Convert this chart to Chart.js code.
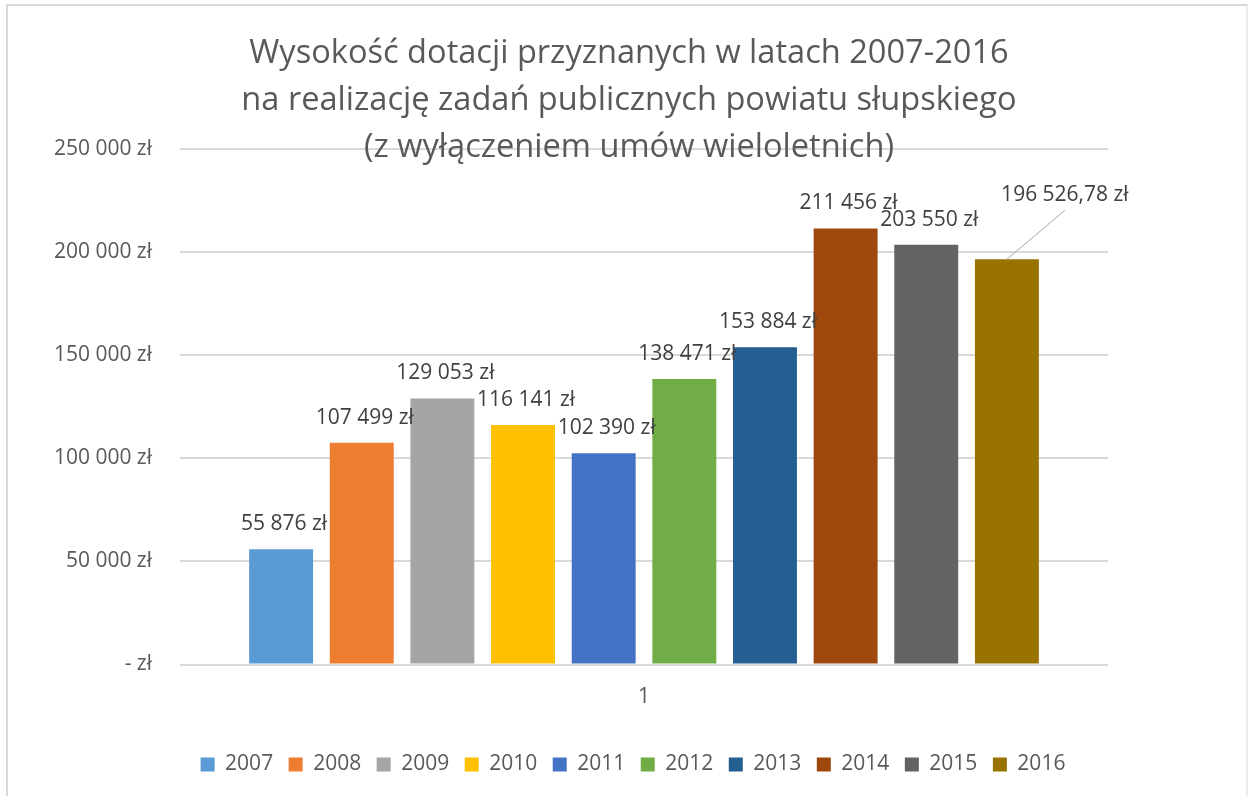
<!DOCTYPE html>
<html>
<head>
<meta charset="utf-8">
<script src="https://cdn.jsdelivr.net/npm/chart.js@4.4.1/dist/chart.umd.min.js"></script>
<style>
  html, body { margin: 0; padding: 0; background: #fff; overflow: hidden; }
  #wrap { position: relative; width: 1248px; height: 796px; }
  #frame { position: absolute; left: 6px; top: 4px; width: 1238px; height: 900px;
           border: 2px solid #d9d9d9; border-right-color: #ececec; pointer-events: none; }
</style>
</head>
<body>
<div id="wrap">
  <canvas id="chart" width="1248" height="796"></canvas>
  <div id="frame"></div>
</div>
<script>
// data
const categories = ['1'];
const years = ['2007', '2008', '2009', '2010', '2011', '2012', '2013', '2014', '2015', '2016'];
const amounts = [55876, 107499, 129053, 116141, 102390, 138471, 153884, 211456, 203550, 196526.78];
const colors = ['#5B9BD5', '#ED7D31', '#A5A5A5', '#FFC000', '#4472C4',
                '#70AD47', '#255E91', '#9E480E', '#636363', '#997300'];
const yTickLabels = ['- zł', '50 000 zł', '100 000 zł', '150 000 zł', '200 000 zł', '250 000 zł'];
const titleLines = [
  'Wysokość dotacji przyznanych w latach 2007-2016',
  'na realizację zadań publicznych powiatu słupskiego',
  '(z wyłączeniem umów wieloletnich)'
];

const FONT = '"Open Sans", "Noto Sans", sans-serif';
const GREY = '#595959';

// "55 876 zł", "196 526,78 zł"
function fmt(v) {
  const intPart = Math.floor(v);
  let s = String(intPart).replace(/\B(?=(\d{3})+(?!\d))/g, ' ');
  const frac = Math.round((v - intPart) * 100);
  if (frac > 0) s += ',' + String(frac).padStart(2, '0');
  return s + ' zł';
}

// title drawn by hand so it can sit over the plot like in Excel
const titlePlugin = {
  id: 'titleOverlay',
  afterLayout(chart) {
    // centre the legend under the whole figure, not under the padded box
    const lg = chart.legend;
    if (lg) { lg.left = 158; lg.right = 1108; lg.width = 950; }
  },
  afterDraw(chart) {
    const ctx = chart.ctx;
    ctx.save();
    ctx.font = '32.6px ' + FONT;
    ctx.fillStyle = GREY;
    ctx.textAlign = 'center';
    ctx.textBaseline = 'alphabetic';
    titleLines.forEach((t, i) => ctx.fillText(t, 629, 63 + i * 47));
    ctx.restore();
  }
};

// value labels above the bars, last one pulled out with a leader line
const labelPlugin = {
  id: 'barLabels',
  afterDatasetsDraw(chart) {
    const ctx = chart.ctx;
    ctx.save();
    ctx.font = '21px ' + FONT;
    ctx.fillStyle = '#404040';
    ctx.textAlign = 'center';
    ctx.textBaseline = 'alphabetic';
    chart.data.datasets.forEach((ds, i) => {
      const bar = chart.getDatasetMeta(i).data[0];
      if (!bar) return;
      const text = fmt(ds.data[0]);
      if (i === years.length - 1) {
        const lx = bar.x + 58, ly = bar.y - 58;
        ctx.strokeStyle = '#a6a6a6';
        ctx.lineWidth = 1;
        ctx.beginPath();
        ctx.moveTo(bar.x, bar.y);
        ctx.lineTo(lx, ly + 9);
        ctx.stroke();
        ctx.fillText(text, lx, ly);
      } else {
        ctx.fillText(text, bar.x + 3, bar.y - 19);
      }
    });
    ctx.restore();
  }
};

const ctx = document.getElementById('chart').getContext('2d');
new Chart(ctx, {
  type: 'bar',
  data: {
    labels: categories,
    datasets: years.map((y, i) => ({
      label: y,
      data: [amounts[i]],
      backgroundColor: colors[i],
      borderWidth: 0,
      categoryPercentage: 0.869,
      barPercentage: 0.793
    }))
  },
  options: {
    responsive: false,
    animation: false,
    layout: { padding: { top: 149, left: 0, right: 140, bottom: 11 } },
    scales: {
      x: {
        grid: { display: false },
        border: { display: false },
        ticks: { color: GREY, font: { family: FONT, size: 21 }, padding: 12 },
        afterFit(scale) { scale.height = 74; }
      },
      y: {
        min: 0,
        max: 250000,
        ticks: {
          stepSize: 50000,
          color: GREY,
          font: { family: FONT, size: 21 },
          padding: 28,
          callback: (v, i) => yTickLabels[i]
        },
        grid: { color: '#d9d9d9', lineWidth: 2, drawTicks: false },
        border: { display: false },
        afterFit(scale) { scale.width = 180; }
      }
    },
    plugins: {
      title: { display: false },
      tooltip: { enabled: false },
      legend: {
        position: 'bottom',
        labels: {
          color: GREY,
          font: { family: FONT, size: 21 },
          boxWidth: 14,
          boxHeight: 14,
          padding: 15.5
        }
      }
    }
  },
  plugins: [labelPlugin, titlePlugin]
});
</script>
</body>
</html>
